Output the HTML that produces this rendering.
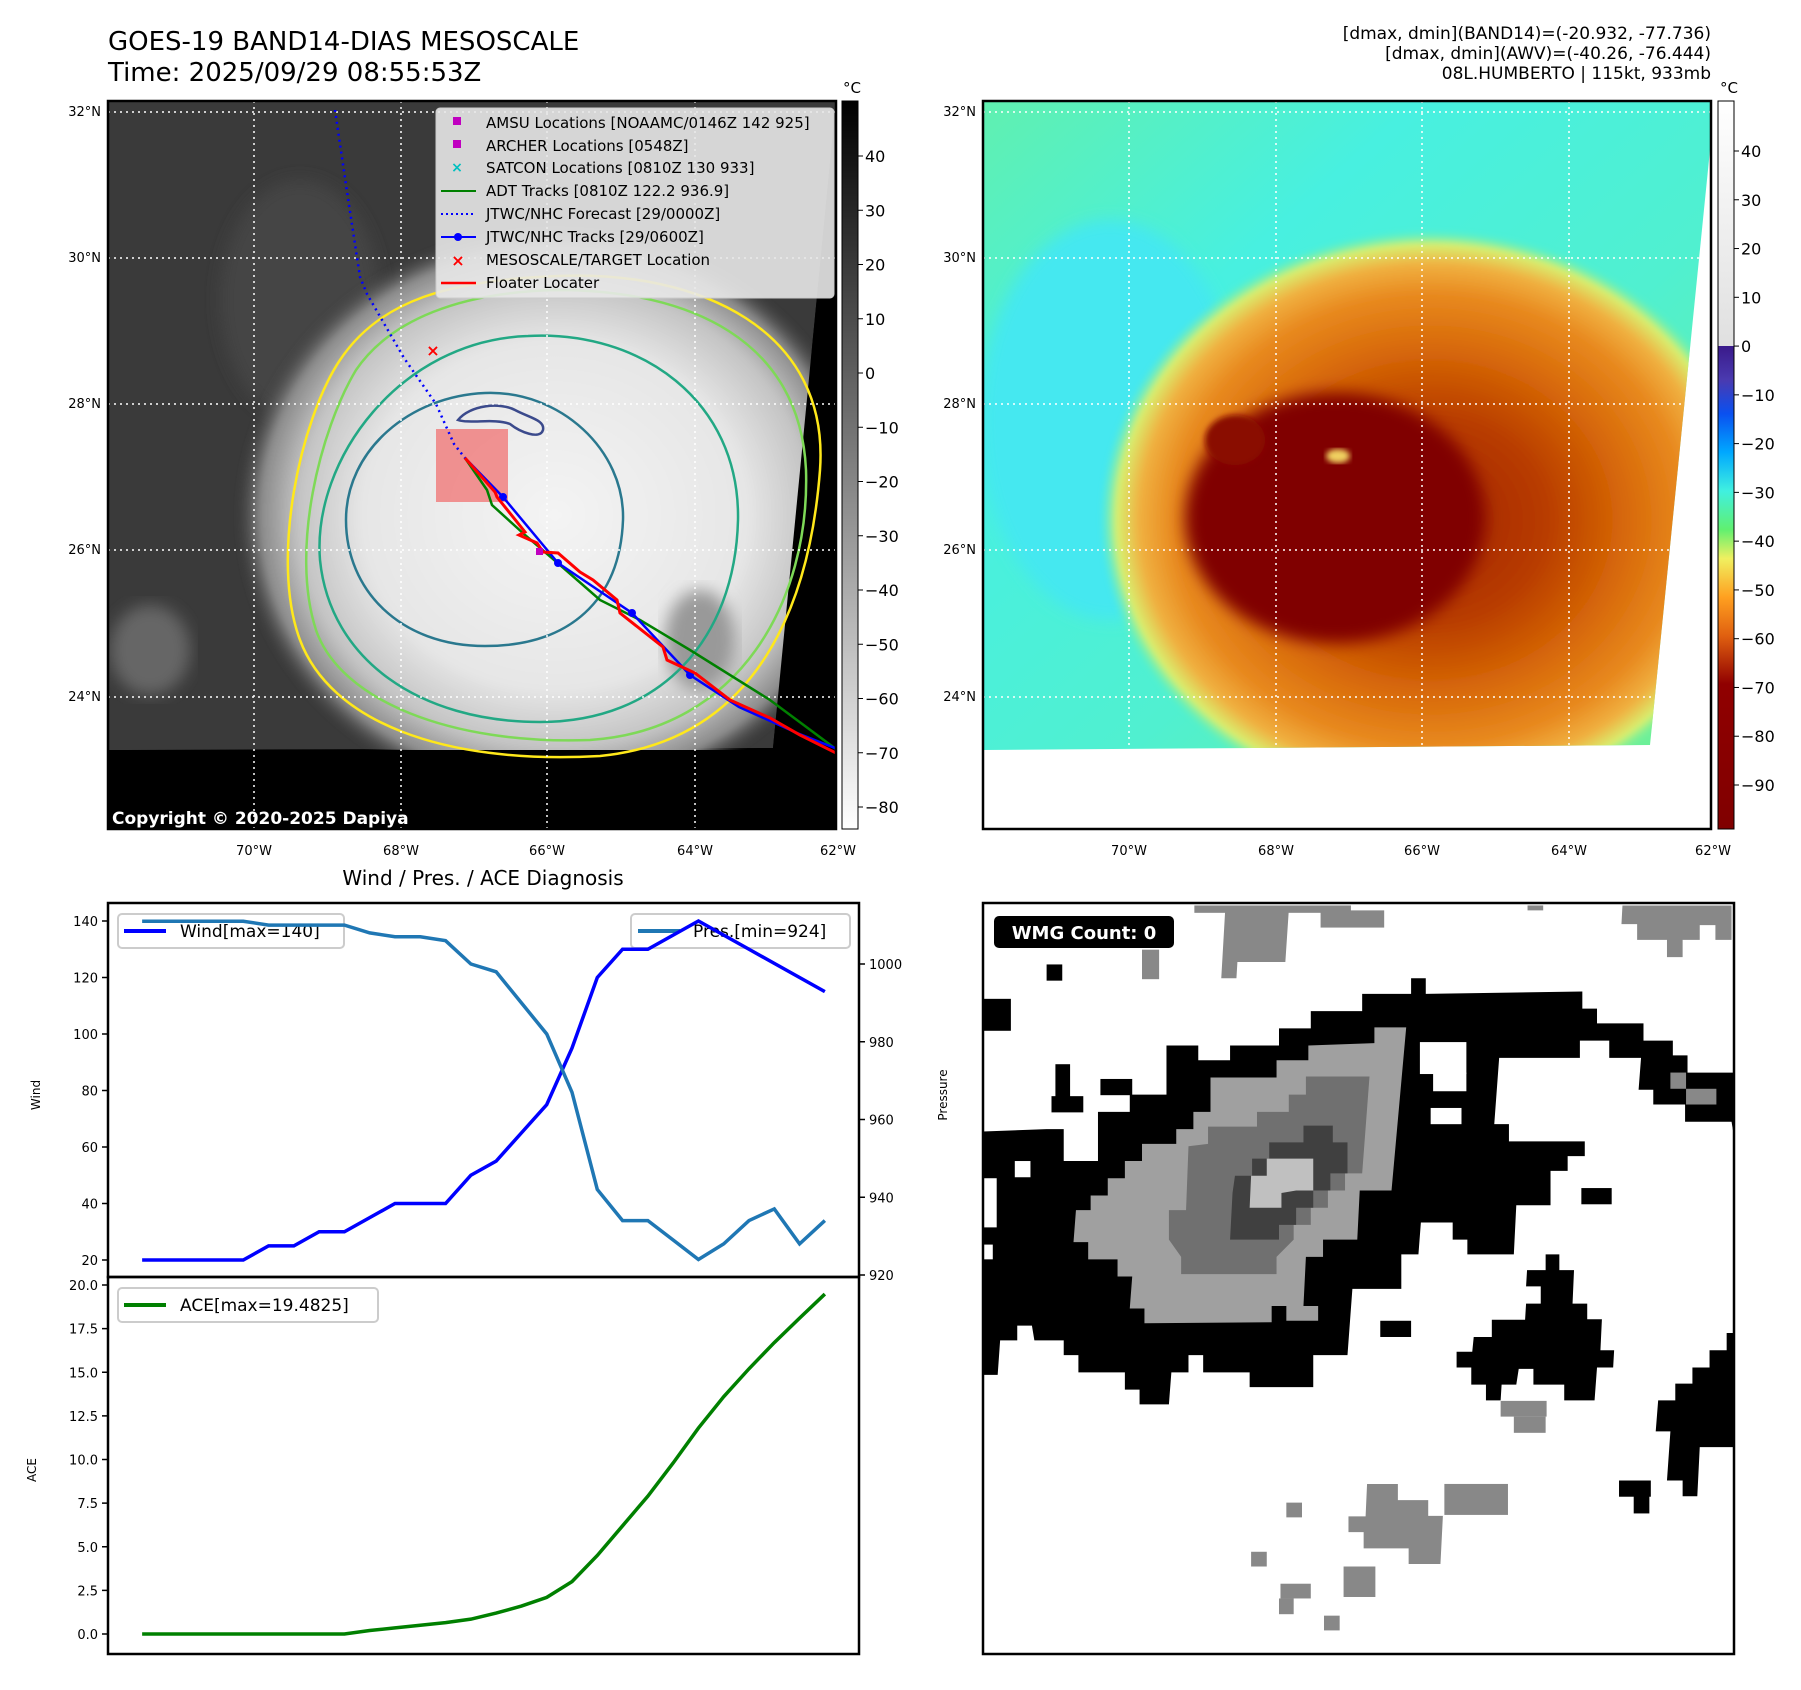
<!DOCTYPE html>
<html><head><meta charset="utf-8"><style>
body{margin:0;background:#fff;}
svg{display:block;font-family:"DejaVu Sans","Liberation Sans",sans-serif;}
</style></head><body>
<svg id="root" width="1801" height="1690" viewBox="0 0 1801 1690" xmlns="http://www.w3.org/2000/svg">
<defs>
<clipPath id="clipL"><rect x="108" y="101" width="728" height="728"/></clipPath>
<clipPath id="clipR"><rect x="983" y="101" width="728" height="728"/></clipPath>
<clipPath id="clipBR"><rect x="983" y="903" width="751" height="751"/></clipPath>
<radialGradient id="stormL" cx="0.5" cy="0.5" r="0.5">
<stop offset="0" stop-color="#f4f4f4"/><stop offset="0.6" stop-color="#e6e6e6"/><stop offset="0.8" stop-color="#c4c4c4"/><stop offset="0.92" stop-color="#8a8a8a"/><stop offset="1" stop-color="#444" stop-opacity="0"/>
</radialGradient>
<radialGradient id="stormR" cx="0.5" cy="0.5" r="0.5">
<stop offset="0" stop-color="#a02000"/><stop offset="0.35" stop-color="#b83c00"/><stop offset="0.6" stop-color="#d86a08"/><stop offset="0.78" stop-color="#e88a20"/><stop offset="0.88" stop-color="#f0b040"/><stop offset="0.95" stop-color="#d8f070"/><stop offset="1" stop-color="#70f0a0" stop-opacity="0"/>
</radialGradient>
<linearGradient id="bgR" x1="0" y1="0" x2="1" y2="1">
<stop offset="0" stop-color="#60f0b0"/><stop offset="0.3" stop-color="#48f0e0"/><stop offset="0.6" stop-color="#50f0d0"/><stop offset="1" stop-color="#70f090"/>
</linearGradient>
<linearGradient id="cbL" x1="0" y1="0" x2="0" y2="1"><stop offset="0" stop-color="#000"/><stop offset="1" stop-color="#fff"/></linearGradient>
<linearGradient id="cbR" x1="0" y1="0" x2="0" y2="1">
<stop offset="0" stop-color="#3a1a8a"/><stop offset="0.07" stop-color="#4a3ab0"/><stop offset="0.14" stop-color="#0a50f0"/><stop offset="0.22" stop-color="#00a8ff"/><stop offset="0.3" stop-color="#40f0e0"/><stop offset="0.38" stop-color="#60f070"/><stop offset="0.44" stop-color="#f0f060"/><stop offset="0.52" stop-color="#ffa020"/><stop offset="0.6" stop-color="#e06010"/><stop offset="0.7" stop-color="#900000"/><stop offset="1" stop-color="#800000"/>
</linearGradient>
<linearGradient id="cbRtop" x1="0" y1="0" x2="0" y2="1"><stop offset="0" stop-color="#fff"/><stop offset="1" stop-color="#e0e0e0"/></linearGradient>
<filter id="blur8"><feGaussianBlur stdDeviation="8"/></filter>
<filter id="blur3"><feGaussianBlur stdDeviation="3"/></filter>
</defs>

<text x="108" y="50" font-size="26">GOES-19 BAND14-DIAS MESOSCALE</text>
<text x="108" y="81" font-size="26">Time: 2025/09/29 08:55:53Z</text>
<g font-size="17" text-anchor="end">
<text x="1711" y="39">[dmax, dmin](BAND14)=(-20.932, -77.736)</text>
<text x="1711" y="59">[dmax, dmin](AWV)=(-40.26, -76.444)</text>
<text x="1711" y="79">08L.HUMBERTO | 115kt, 933mb</text>
</g>

<!-- LEFT MAP -->
<g clip-path="url(#clipL)">
<rect x="108" y="101" width="728" height="728" fill="#000"/>
<polygon points="108,101 836,101 773,748 108,750" fill="#3a3a3a"/>
<ellipse cx="150" cy="650" rx="40" ry="45" fill="#666" filter="url(#blur8)"/>
<ellipse cx="300" cy="300" rx="80" ry="120" fill="#444" filter="url(#blur8)"/>
<ellipse cx="555" cy="515" rx="320" ry="290" fill="url(#stormL)" filter="url(#blur3)"/>
<ellipse cx="700" cy="640" rx="35" ry="50" fill="#999" filter="url(#blur8)"/>
<rect x="108" y="750" width="728" height="80" fill="#000"/>
<polygon points="836,101 836,830 773,748" fill="#000"/>
<g fill="none" stroke-width="2.5">
<path d="M558,276 C700,270 830,330 820,470 C810,600 760,740 600,756 C440,765 330,720 300,640 C270,560 300,420 340,360 C380,300 450,280 558,276 Z" stroke="#ffe81a"/>
<path d="M557,290 C690,290 800,340 806,470 C810,600 740,730 590,740 C450,745 340,700 316,630 C290,550 320,430 356,370 C390,320 460,292 557,290 Z" stroke="#7ed957"/>
<path d="M528,336 C640,330 740,400 738,520 C735,640 660,722 540,722 C420,722 330,660 320,560 C312,460 400,340 528,336 Z" stroke="#22a884"/>
<path d="M485,393 C560,390 625,450 623,520 C620,600 570,646 485,646 C400,646 346,590 346,520 C346,450 410,396 485,393 Z" stroke="#2a788e"/>
<path d="M458,420 C470,405 500,402 515,410 C530,418 545,420 543,430 C540,440 520,432 510,424 C495,418 470,424 458,420 Z" stroke="#3b4a8c"/>
</g>
<rect x="436" y="429" width="72" height="73" fill="#f08080" fill-opacity="0.85"/>
<g stroke="#fff" stroke-width="1.5" stroke-dasharray="2,4" fill="none">
<line x1="108" y1="112" x2="836" y2="112"/><line x1="108" y1="258" x2="836" y2="258"/><line x1="108" y1="404" x2="836" y2="404"/><line x1="108" y1="550" x2="836" y2="550"/><line x1="108" y1="697" x2="836" y2="697"/>
<line x1="254" y1="101" x2="254" y2="830"/><line x1="401" y1="101" x2="401" y2="830"/><line x1="547" y1="101" x2="547" y2="830"/><line x1="695" y1="101" x2="695" y2="830"/>
</g>
<polyline points="335,110 346,185 360,277 367,294 404,358 436,404 454,444 465,458" fill="none" stroke="#00f" stroke-width="2.5" stroke-dasharray="2,4"/>
<polyline points="465,458 487,490 492,505 525,535 560,565 600,600 640,620 690,650 770,700 840,752" fill="none" stroke="#008000" stroke-width="2.5"/>
<polyline points="465,458 503,497 558,563 632,613 690,675 739,707 797,733 840,750" fill="none" stroke="#00f" stroke-width="2.5"/>
<g fill="#00f"><circle cx="503" cy="497" r="4"/><circle cx="558" cy="563" r="4"/><circle cx="632" cy="613" r="4"/><circle cx="690" cy="675" r="4"/></g>
<polyline points="465,458 495,492 497,497 525,532 519,535 537,543 543,552 558,553 580,572 593,580 617,600 620,613 663,647 667,660 695,673 730,700 770,718 800,735 840,755" fill="none" stroke="#f00" stroke-width="3"/>
<text x="433" y="356" font-size="16" fill="#f00" font-weight="bold" text-anchor="middle">×</text>
<rect x="536" y="548" width="7" height="7" fill="#c000c0"/>
</g>
<rect x="108" y="101" width="728" height="728" fill="none" stroke="#000" stroke-width="2.5"/>
<text x="112" y="824" font-size="17" font-weight="bold" fill="#fff">Copyright © 2020-2025 Dapiya</text>

<g font-size="15">
<rect x="436" y="108" width="398" height="190" rx="4" fill="#e8e8e8" fill-opacity="0.9" stroke="#ccc"/>
<rect x="453" y="117" width="8" height="8" fill="#c000c0"/><text x="486" y="128">AMSU Locations [NOAAMC/0146Z 142 925]</text>
<rect x="453" y="140" width="8" height="8" fill="#c000c0"/><text x="486" y="151">ARCHER Locations [0548Z]</text>
<text x="457" y="172" fill="#00c0c0" font-size="14" font-weight="bold" text-anchor="middle">×</text><text x="486" y="173">SATCON Locations [0810Z 130 933]</text>
<line x1="441" y1="191" x2="476" y2="191" stroke="#008000" stroke-width="2"/><text x="486" y="196">ADT Tracks [0810Z 122.2 936.9]</text>
<line x1="441" y1="214" x2="476" y2="214" stroke="#00f" stroke-width="2" stroke-dasharray="2,3"/><text x="486" y="219">JTWC/NHC Forecast [29/0000Z]</text>
<line x1="441" y1="237" x2="476" y2="237" stroke="#00f" stroke-width="2"/><circle cx="458" cy="237" r="4" fill="#00f"/><text x="486" y="242">JTWC/NHC Tracks [29/0600Z]</text>
<text x="458" y="266" fill="#f00" font-size="16" font-weight="bold" text-anchor="middle">×</text><text x="486" y="265">MESOSCALE/TARGET Location</text>
<line x1="441" y1="283" x2="476" y2="283" stroke="#f00" stroke-width="2.5"/><text x="486" y="288">Floater Locater</text>
</g>

<g>
<rect x="842" y="101" width="16" height="728" fill="url(#cbL)" stroke="#000" stroke-width="1"/>
<text x="852" y="93" font-size="15" text-anchor="middle">°C</text>
<g id="cbLticks" font-size="16"></g>
</g>

<g font-size="13">
<g text-anchor="end"><text x="101" y="116">32°N</text><text x="101" y="262">30°N</text><text x="101" y="408">28°N</text><text x="101" y="554">26°N</text><text x="101" y="701">24°N</text></g>
<g text-anchor="middle"><text x="254" y="855">70°W</text><text x="401" y="855">68°W</text><text x="547" y="855">66°W</text><text x="695" y="855">64°W</text><text x="838" y="855">62°W</text></g>
</g>

<!-- RIGHT MAP -->
<g clip-path="url(#clipR)">
<rect x="983" y="101" width="728" height="728" fill="#fff"/>
<clipPath id="clipRdata"><polygon points="983,101 1711,101 1711,140 1650,745 983,750"/></clipPath>
<g clip-path="url(#clipRdata)">
<rect x="983" y="101" width="728" height="650" fill="url(#bgR)"/>
<ellipse cx="1110" cy="420" rx="130" ry="200" fill="#44e8f0" filter="url(#blur8)"/>
<ellipse cx="1430" cy="520" rx="330" ry="290" fill="url(#stormR)" filter="url(#blur3)"/>
<ellipse cx="1335" cy="518" rx="150" ry="125" fill="#800000" filter="url(#blur8)"/>
<ellipse cx="1235" cy="440" rx="30" ry="25" fill="#8a1000" filter="url(#blur3)"/>
<ellipse cx="1338" cy="456" rx="12" ry="7" fill="#f0d060" filter="url(#blur3)"/>
</g>
<g stroke="#fff" stroke-width="1.5" stroke-dasharray="2,4" fill="none">
<line x1="983" y1="112" x2="1711" y2="112"/><line x1="983" y1="258" x2="1711" y2="258"/><line x1="983" y1="404" x2="1711" y2="404"/><line x1="983" y1="550" x2="1711" y2="550"/><line x1="983" y1="697" x2="1711" y2="697"/>
<line x1="1129" y1="101" x2="1129" y2="745"/><line x1="1276" y1="101" x2="1276" y2="745"/><line x1="1422" y1="101" x2="1422" y2="745"/><line x1="1569" y1="101" x2="1569" y2="745"/>
</g>
</g>
<rect x="983" y="101" width="728" height="728" fill="none" stroke="#000" stroke-width="2.5"/>
<g>
<rect x="1718" y="101" width="16" height="245" fill="url(#cbRtop)"/>
<rect x="1718" y="346" width="16" height="483" fill="url(#cbR)"/>
<rect x="1718" y="101" width="16" height="728" fill="none" stroke="#000" stroke-width="1"/>
<text x="1729" y="93" font-size="15" text-anchor="middle">°C</text>
<g id="cbRticks" font-size="16"></g>
</g>
<g font-size="13">
<g text-anchor="end"><text x="976" y="116">32°N</text><text x="976" y="262">30°N</text><text x="976" y="408">28°N</text><text x="976" y="554">26°N</text><text x="976" y="701">24°N</text></g>
<g text-anchor="middle"><text x="1129" y="855">70°W</text><text x="1276" y="855">68°W</text><text x="1422" y="855">66°W</text><text x="1569" y="855">64°W</text><text x="1713" y="855">62°W</text></g>
</g>

<!-- BOTTOM LEFT CHART -->
<text x="483" y="885" font-size="20" text-anchor="middle">Wind / Pres. / ACE Diagnosis</text>
<g id="chart"></g>

<!-- BOTTOM RIGHT WMG -->
<g clip-path="url(#clipBR)">
<rect x="983" y="903" width="751" height="751" fill="#fff"/>
<svg x="983" y="903" width="751" height="751" viewBox="0 5 1535 1528" preserveAspectRatio="none">
<g fill="#000">
<polygon points="0,470 130,465 165,465 165,530 235,530 235,430 300,430 300,395 375,395 375,295 440,295 440,325 505,325 505,295 605,295 605,260 670,260 670,225 775,225 775,190 875,190 875,158 905,158 905,190 1225,185 1225,220 1255,220 1255,250 1350,250 1350,285 1410,285 1410,315 1440,315 1440,350 1535,350 1535,480 1530,450 1435,450 1435,415 1370,415 1370,385 1340,385 1345,320 1280,320 1280,285 1220,285 1220,320 1055,320 1045,455 1075,455 1075,490 1230,490 1230,520 1195,520 1195,550 1160,550 1160,620 1090,620 1085,720 990,720 990,690 960,690 960,655 895,655 890,720 855,720 855,790 755,790 745,925 675,925 675,990 545,990 545,960 450,960 450,925 420,925 420,960 385,960 380,1025 320,1025 320,995 290,995 290,960 195,960 195,925 165,925 165,895 105,895 100,865 70,865 70,895 35,895 30,965 0,965"/>
<rect x="130" y="130" width="32" height="33"/><rect x="0" y="200" width="57" height="65"/>
<rect x="148" y="333" width="30" height="67"/><rect x="140" y="398" width="65" height="33"/><rect x="240" y="363" width="65" height="33"/>
<rect x="1223" y="585" width="62" height="33"/><rect x="812" y="855" width="63" height="33"/>
<polygon points="1150,720 1178,720 1178,752 1208,752 1205,820 1235,820 1235,852 1265,852 1262,915 1290,915 1288,950 1255,950 1250,1017 1188,1017 1188,985 1125,985 1125,953 1095,953 1090,985 1060,985 1058,1017 1028,1017 1028,985 998,985 998,950 968,950 968,918 1000,918 1003,888 1040,888 1040,853 1108,853 1110,820 1140,820 1140,785 1110,785 1112,752 1150,752"/>
<polygon points="1535,880 1520,880 1520,915 1485,915 1485,950 1450,950 1450,983 1415,983 1415,1017 1380,1017 1375,1080 1405,1080 1398,1180 1430,1180 1430,1212 1460,1212 1465,1112 1535,1112"/>
<rect x="1300" y="1180" width="65" height="33"/><rect x="1330" y="1210" width="32" height="37"/>
</g>
<g fill="#fff"><rect x="893" y="288" width="95" height="65"/><rect x="920" y="350" width="68" height="38"/><rect x="915" y="422" width="63" height="33"/><rect x="0" y="565" width="28" height="100"/><rect x="0" y="700" width="20" height="30"/><rect x="65" y="530" width="32" height="33"/></g>
<polygon fill="#a0a0a0" points="800,258 865,258 835,590 770,590 765,690 695,690 695,725 660,725 655,825 685,825 685,855 620,855 620,825 590,825 590,858 330,860 330,830 300,830 305,765 275,765 275,730 215,730 215,695 185,695 190,630 220,630 220,600 255,600 255,565 290,565 290,530 325,530 325,495 395,495 395,465 430,465 430,430 465,430 465,360 600,360 600,325 665,325 665,295 800,290"/>
<polygon fill="#707070" points="660,358 790,358 775,555 740,555 740,590 705,590 705,625 670,625 670,660 635,660 635,690 600,725 600,760 405,760 405,725 380,690 380,630 415,630 420,500 460,495 460,460 560,460 560,430 625,430 625,395 660,395"/>
<polygon fill="#404040" points="655,458 715,458 715,492 745,492 745,555 710,555 710,590 675,590 675,625 640,625 640,660 605,660 605,690 505,690 510,595 515,560 550,560 550,525 585,525 585,492 655,492"/>
<polygon fill="#c0c0c0" points="580,525 675,525 675,590 640,590 610,595 610,625 545,625 548,560 580,560"/>
<g fill="#888">
<rect x="432" y="10" width="320" height="15"/>
<polygon points="495,20 625,20 618,125 520,125 518,158 487,158"/>
<rect x="325" y="100" width="35" height="60"/><rect x="690" y="20" width="130" height="35"/><rect x="1113" y="10" width="32" height="10"/>
<polygon points="1307,10 1530,10 1530,80 1497,80 1497,50 1465,50 1465,80 1430,80 1430,115 1398,115 1398,80 1337,80 1337,48 1305,48"/>
<rect x="1405" y="350" width="32" height="33"/><rect x="1437" y="383" width="62" height="32"/>
<rect x="1058" y="1018" width="94" height="32"/><rect x="1085" y="1050" width="65" height="33"/>
<rect x="620" y="1225" width="32" height="30"/><rect x="548" y="1325" width="32" height="30"/><rect x="943" y="1187" width="130" height="63"/>
<polygon points="785,1187 848,1187 848,1220 910,1220 910,1252 940,1252 935,1350 870,1350 870,1318 778,1318 778,1285 747,1285 747,1253 782,1253"/>
<rect x="737" y="1355" width="65" height="62"/><rect x="608" y="1390" width="62" height="30"/><rect x="605" y="1420" width="30" height="32"/><rect x="697" y="1455" width="32" height="30"/>
</g>
</svg>
</g>
<rect x="983" y="903" width="751" height="751" fill="none" stroke="#000" stroke-width="2.5"/>
<rect x="994" y="916" width="180" height="32" rx="5" fill="#000"/>
<text x="1084" y="939" font-size="18" font-weight="bold" fill="#fff" text-anchor="middle">WMG Count: 0</text>
</svg>

<script>
const windVals = [20,20,20,20,20,25,25,30,30,35,40,40,40,50,55,65,75,95,120,130,130,135,140,135,130,125,120,115];
const presVals = [1011,1011,1011,1011,1011,1010,1010,1010,1010,1008,1007,1007,1006,1000,998,990,982,967,942,934,934,929,924,928,934,937,928,934];
const aceVals = [0,0,0,0,0,0,0,0,0,0.2,0.35,0.5,0.65,0.85,1.2,1.6,2.1,3.0,4.5,6.2,7.9,9.8,11.8,13.6,15.2,16.7,18.1,19.48];
const windTicks = [20,40,60,80,100,120,140];
const presTicks = [920,940,960,980,1000];
const aceTicks = [0,2.5,5,7.5,10,12.5,15,17.5,20];
const cbLTicks = [40,30,20,10,0,-10,-20,-30,-40,-50,-60,-70,-80];
const cbRTicks = [40,30,20,10,0,-10,-20,-30,-40,-50,-60,-70,-80,-90];

const NS='http://www.w3.org/2000/svg';
function mk(tag, attrs, parent){const e=document.createElementNS(NS,tag);for(const k in attrs)e.setAttribute(k,attrs[k]);parent.appendChild(e);return e;}
const L=108,R=859,T=903,MID=1277,B=1654;
const xS=i=>L+(i+1.35)*((R-L)/29.7);
const yW=v=>921+(140-v)*(1260-921)/120;
const yP=p=>1275-(p-920)*(1275-964)/80;
const yA=a=>1634-a*(1634-1285)/20;
const yCL=v=>156+(40-v)*(807-156)/120;
const yCR=v=>151+(40-v)*(785-151)/130;

const cl=document.getElementById('cbLticks');
cbLTicks.forEach(v=>{const y=yCL(v);mk('line',{x1:858,x2:863,y1:y,y2:y,stroke:'#000'},cl);const t=mk('text',{x:865,y:y+6},cl);t.textContent=(v<0?'\u2212'+(-v):v);});
const cr=document.getElementById('cbRticks');
cbRTicks.forEach(v=>{const y=yCR(v);mk('line',{x1:1734,x2:1739,y1:y,y2:y,stroke:'#000'},cr);const t=mk('text',{x:1741,y:y+6},cr);t.textContent=(v<0?'\u2212'+(-v):v);});

const g=document.getElementById('chart');
mk('rect',{x:L,y:T,width:R-L,height:B-T,fill:'#fff'},g);
windTicks.forEach(v=>{const y=yW(v);mk('line',{x1:L-6,x2:L,y1:y,y2:y,stroke:'#000','stroke-width':1.5},g);const t=mk('text',{x:L-10,y:y+5,'font-size':13,'text-anchor':'end'},g);t.textContent=v;});
presTicks.forEach(v=>{const y=yP(v);mk('line',{x1:R,x2:R+6,y1:y,y2:y,stroke:'#000','stroke-width':1.5},g);const t=mk('text',{x:R+10,y:y+5,'font-size':13},g);t.textContent=v;});
aceTicks.forEach(v=>{const y=yA(v);mk('line',{x1:L-6,x2:L,y1:y,y2:y,stroke:'#000','stroke-width':1.5},g);const t=mk('text',{x:L-10,y:y+5,'font-size':13,'text-anchor':'end'},g);t.textContent=v.toFixed(1);});
const yl1=mk('text',{x:40,y:1095,'font-size':12,'text-anchor':'middle',transform:'rotate(-90 40 1095)'},g);yl1.textContent='Wind';


const yl2=mk('text',{x:947,y:1095,'font-size':12,'text-anchor':'middle',transform:'rotate(-90 947 1095)'},g);yl2.textContent='Pressure';


const yl3=mk('text',{x:36,y:1470,'font-size':12,'text-anchor':'middle',transform:'rotate(-90 36 1470)'},g);yl3.textContent='ACE';



const lw=mk('rect',{x:118,y:914,width:226,height:34,rx:4,fill:'#fff','fill-opacity':0.8,stroke:'#ccc','stroke-width':2},g);


mk('line',{x1:124,x2:166,y1:931,y2:931,stroke:'#0000ff','stroke-width':4},g);
mk('text',{x:180,y:937,'font-size':17},g).textContent='Wind[max=140]';
const lp=mk('rect',{x:631,y:914,width:219,height:34,rx:4,fill:'#fff','fill-opacity':0.8,stroke:'#ccc','stroke-width':2},g);


mk('line',{x1:638,x2:680,y1:931,y2:931,stroke:'#1f77b4','stroke-width':4},g);
mk('text',{x:693,y:937,'font-size':17},g).textContent='Pres.[min=924]';
const la=mk('rect',{x:118,y:1288,width:260,height:34,rx:4,fill:'#fff','fill-opacity':0.8,stroke:'#ccc','stroke-width':2},g);


mk('line',{x1:124,x2:166,y1:1305,y2:1305,stroke:'#008000','stroke-width':4},g);
mk('text',{x:180,y:1311,'font-size':17},g).textContent='ACE[max=19.4825]';

const pw=mk('polyline',{points:windVals.map((v,i)=>xS(i)+','+yW(v)).join(' '),fill:'none',stroke:'#0000ff','stroke-width':3.5},g);


const pp=mk('polyline',{points:presVals.map((v,i)=>xS(i)+','+yP(v)).join(' '),fill:'none',stroke:'#1f77b4','stroke-width':3.5},g);


const pa=mk('polyline',{points:aceVals.map((v,i)=>xS(i)+','+yA(v)).join(' '),fill:'none',stroke:'#008000','stroke-width':3.5},g);



mk('rect',{x:L,y:T,width:R-L,height:MID-T,fill:'none',stroke:'#000','stroke-width':2.5},g);
mk('rect',{x:L,y:MID,width:R-L,height:B-MID,fill:'none',stroke:'#000','stroke-width':2.5},g);
</script>
</body></html>
